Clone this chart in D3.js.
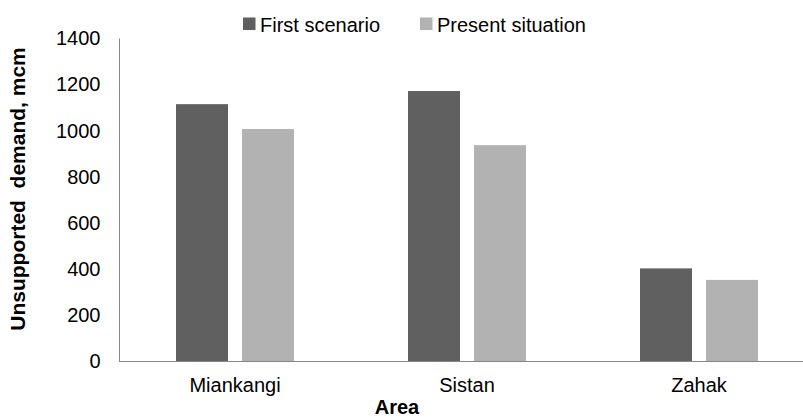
<!DOCTYPE html>
<html>
<head>
<meta charset="utf-8">
<script src="https://cdn.jsdelivr.net/npm/d3@7"></script>
<style>
  html, body { margin: 0; padding: 0; background: #fff; }
  svg { display: block; font-family: "Liberation Sans", Arial, sans-serif; }
</style>
</head>
<body>
<script>
const categories = ["Miankangi", "Sistan", "Zahak"];
const seriesNames = ["First scenario", "Present situation"];
const firstScenario = [1115, 1172, 402];
const presentSituation = [1007, 937, 352];
const yTicks = [0, 200, 400, 600, 800, 1000, 1200, 1400];
const colors = ["#606060", "#b2b2b2"];

const W = 803, H = 419;
const svg = d3.select("body").append("svg").attr("width", W).attr("height", H);

const left = 119, plotTop = 38.5, plotBottom = 361;
const x0 = d3.scaleBand().domain(categories).range([left, left + 3 * 232]).paddingInner(0).paddingOuter(0);
const x1 = d3.scaleBand().domain(seriesNames).range([0, x0.bandwidth()]).paddingInner(0.212).paddingOuter(0.864);
const y = d3.scaleLinear().domain([0, 1400]).range([plotBottom, plotTop]);

const values = [firstScenario, presentSituation];

// bars
seriesNames.forEach((s, si) => {
  svg.append("g").selectAll("rect").data(categories).join("rect")
    .attr("x", d => x0(d) + x1(s))
    .attr("width", x1.bandwidth())
    .attr("y", (d, i) => y(values[si][i]))
    .attr("height", (d, i) => y(0) - y(values[si][i]))
    .attr("fill", colors[si]);
});

// y axis
const yAxis = d3.axisLeft(y).tickValues(yTicks).tickSize(0).tickPadding(19).tickFormat(d3.format("d"));
const gy = svg.append("g").attr("transform", `translate(${left + 0.5},0)`).call(yAxis);
gy.select(".domain").attr("stroke", "#868686").attr("d", `M0,${plotTop}V${plotBottom}`);
gy.selectAll("text").attr("font-size", 20).attr("fill", "#000").attr("font-family", "Liberation Sans, Arial, sans-serif");

// x axis
const xAxis = d3.axisBottom(x0).tickSize(0).tickPadding(16);
const gx = svg.append("g").attr("transform", `translate(0,${plotBottom + 0.5})`).call(xAxis);
gx.select(".domain").attr("stroke", "#868686").attr("d", `M${left},0H${W}`);
gx.selectAll("text").attr("font-size", 20).attr("fill", "#000").attr("font-family", "Liberation Sans, Arial, sans-serif");

// axis titles
svg.append("text")
  .attr("transform", `translate(24.5,189) rotate(-90)`)
  .attr("text-anchor", "middle")
  .attr("font-size", 21).attr("font-weight", "bold")
  .attr("xml:space", "preserve")
  .style("white-space", "pre")
  .text("Unsupported  demand, mcm");

svg.append("text")
  .attr("x", 397).attr("y", 414)
  .attr("text-anchor", "middle")
  .attr("font-size", 20).attr("font-weight", "bold")
  .text("Area");

// legend
const legendX = [243, 420];
seriesNames.forEach((s, i) => {
  svg.append("rect").attr("x", legendX[i]).attr("y", 17.5).attr("width", 12.5).attr("height", 12.5).attr("fill", colors[i]);
  svg.append("text").attr("x", legendX[i] + 17).attr("y", 31.5).attr("font-size", 20).attr("fill", "#000").text(s);
});
</script>
</body>
</html>
